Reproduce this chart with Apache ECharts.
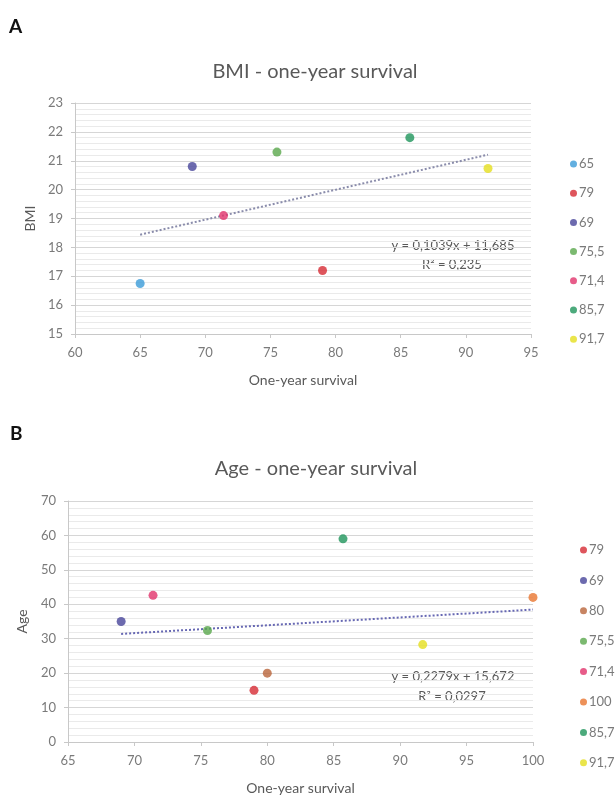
<!DOCTYPE html>
<html><head><meta charset="utf-8">
<script src="https://cdn.jsdelivr.net/npm/echarts@6/dist/echarts.min.js"></script>
<style>html,body{margin:0;padding:0;background:#fff}#c{width:616px;height:796px}</style>
</head><body><div id="c"></div>
<script>
// ---- Data ----
const bmiNames = ['65', '79', '69', '75,5', '71,4', '85,7', '91,7'];
const bmiX = [65, 79, 69, 75.5, 71.4, 85.7, 91.7];
const bmiY = [16.75, 17.2, 20.8, 21.3, 19.1, 21.8, 20.73];
const bmiTrendX = [65, 91.7];
const bmiTrendY = [18.44, 21.21];
const bmiXTicks = [60, 95, 5];
const bmiYTicks = [15, 23, 1];

const ageNames = ['79', '69', '80', '75,5', '71,4', '100', '85,7', '91,7'];
const ageX = [79, 69, 80, 75.5, 71.4, 100, 85.7, 91.7];
const ageY = [15, 35, 20, 32.4, 42.6, 42, 59, 28.3];
const ageTrendX = [69, 100];
const ageTrendY = [31.4, 38.46];
const ageXTicks = [65, 100, 5];
const ageYTicks = [0, 70, 10];

// ---- Styles ----
const colorOf = {
  '65': '#3b9bd8', '79': '#d62b33', '69': '#47459a', '75,5': '#5aa84c',
  '71,4': '#e1336c', '85,7': '#1f955b', '91,7': '#e5df1e', '80': '#b9653b', '100': '#e8752f'
};
const FONT = 'Lato, "Open Sans", sans-serif';
const TXT = '#595959';
const TICK = '#7a7a7a';

function xAxisCfg(idx, t) {
  return {
    type: 'value', gridIndex: idx, min: t[0], max: t[1], interval: t[2],
    name: 'One-year survival', nameLocation: 'middle', nameGap: 39,
    nameTextStyle: { color: TXT, fontSize: 14, fontFamily: FONT },
    axisLine: { show: true, lineStyle: { color: '#c8c8c8' } },
    axisTick: { show: true, length: 4, lineStyle: { color: '#c8c8c8' } },
    axisLabel: { color: TICK, fontSize: 13, fontFamily: FONT, margin: 12 },
    splitLine: { show: false }
  };
}
function yAxisCfg(idx, t, name, gap) {
  return {
    type: 'value', gridIndex: idx, min: t[0], max: t[1], interval: t[2],
    name: name, nameLocation: 'middle', nameGap: gap, nameRotate: 90,
    nameTextStyle: { color: TXT, fontSize: 14, fontFamily: FONT },
    axisLine: { show: true, lineStyle: { color: '#c8c8c8' } },
    axisTick: { show: true, length: 4, lineStyle: { color: '#c8c8c8' } },
    axisLabel: { color: TICK, fontSize: 13, fontFamily: FONT, margin: 12 },
    splitLine: { show: true, lineStyle: { color: '#d6d6d6', width: 1 } },
    minorTick: { show: false, splitNumber: 5 },
    minorSplitLine: { show: true, lineStyle: { color: '#eaeaea', width: 1 } }
  };
}

const series = [];
bmiNames.forEach((n, i) => {
  series.push({
    type: 'scatter', name: n, xAxisIndex: 0, yAxisIndex: 0,
    symbolSize: 9, itemStyle: { color: colorOf[n] },
    data: [[bmiX[i], bmiY[i]]], z: 5
  });
});
series.push({
  type: 'line', name: 'trendA', xAxisIndex: 0, yAxisIndex: 0, symbol: 'none',
  lineStyle: { color: '#8a8cab', width: 2, type: [2, 2] },
  data: bmiTrendX.map((x, i) => [x, bmiTrendY[i]]), z: 3, silent: true
});
ageNames.forEach((n, i) => {
  series.push({
    type: 'scatter', name: n, xAxisIndex: 1, yAxisIndex: 1,
    symbolSize: 9, itemStyle: { color: colorOf[n] },
    data: [[ageX[i], ageY[i]]], z: 5
  });
});
series.push({
  type: 'line', name: 'trendB', xAxisIndex: 1, yAxisIndex: 1, symbol: 'none',
  lineStyle: { color: '#6768b3', width: 2, type: [2, 2] },
  data: ageTrendX.map((x, i) => [x, ageTrendY[i]]), z: 3, silent: true
});

function legendCfg(names, left, top, gap) {
  return {
    orient: 'vertical', left: left, top: top, itemGap: gap,
    icon: 'circle', itemWidth: 7, itemHeight: 7,
    data: names.map(n => ({ name: n, itemStyle: { color: colorOf[n] } })),
    textStyle: { color: TICK, fontSize: 13, fontFamily: FONT, lineHeight: 14, padding: [0, 0, 0, -3] },
    selectedMode: false
  };
}

const chart = echarts.init(document.getElementById('c'), null, { renderer: 'canvas' });
chart.setOption({
  backgroundColor: '#ffffff',
  animation: false,
  title: [
    { text: 'BMI - one-year survival', left: 310, top: 57, textAlign: 'center',
      textStyle: { color: TXT, fontSize: 20, fontWeight: 'normal', fontFamily: FONT } },
    { text: 'Age - one-year survival', left: 311, top: 454, textAlign: 'center',
      textStyle: { color: TXT, fontSize: 20, fontWeight: 'normal', fontFamily: FONT } }
  ],
  grid: [
    { left: 75, top: 103, width: 456, height: 231 },
    { left: 68, top: 501, width: 465, height: 241 }
  ],
  xAxis: [xAxisCfg(0, bmiXTicks), xAxisCfg(1, ageXTicks)],
  yAxis: [yAxisCfg(0, bmiYTicks, 'BMI', 37), yAxisCfg(1, ageYTicks, 'Age', 39)],
  legend: [
    legendCfg(bmiNames, 565, 152, 15.2),
    legendCfg(ageNames, 575, 538, 16.4)
  ],
  graphic: [
    { type: 'text', left: 9, top: 17, style: { text: 'A', fill: '#111', font: 'bold 19px ' + FONT } },
    { type: 'text', left: 10, top: 424, style: { text: 'B', fill: '#111', font: 'bold 19px ' + FONT } },
    { type: 'text', x: 453, y: 246, style: { text: 'y = 0,1039x + 11,685', fill: TXT, font: '13px ' + FONT, align: 'center', verticalAlign: 'middle' } },
    { type: 'text', x: 452, y: 265, style: { text: 'R² = 0,235', fill: TXT, font: '13px ' + FONT, align: 'center', verticalAlign: 'middle' } },
    { type: 'text', x: 453, y: 677, style: { text: 'y = 0,2279x + 15,672', fill: TXT, font: '13px ' + FONT, align: 'center', verticalAlign: 'middle' } },
    { type: 'text', x: 452, y: 697, style: { text: 'R² = 0,0297', fill: TXT, font: '13px ' + FONT, align: 'center', verticalAlign: 'middle' } }
  ],
  series: series
});
</script></body></html>
